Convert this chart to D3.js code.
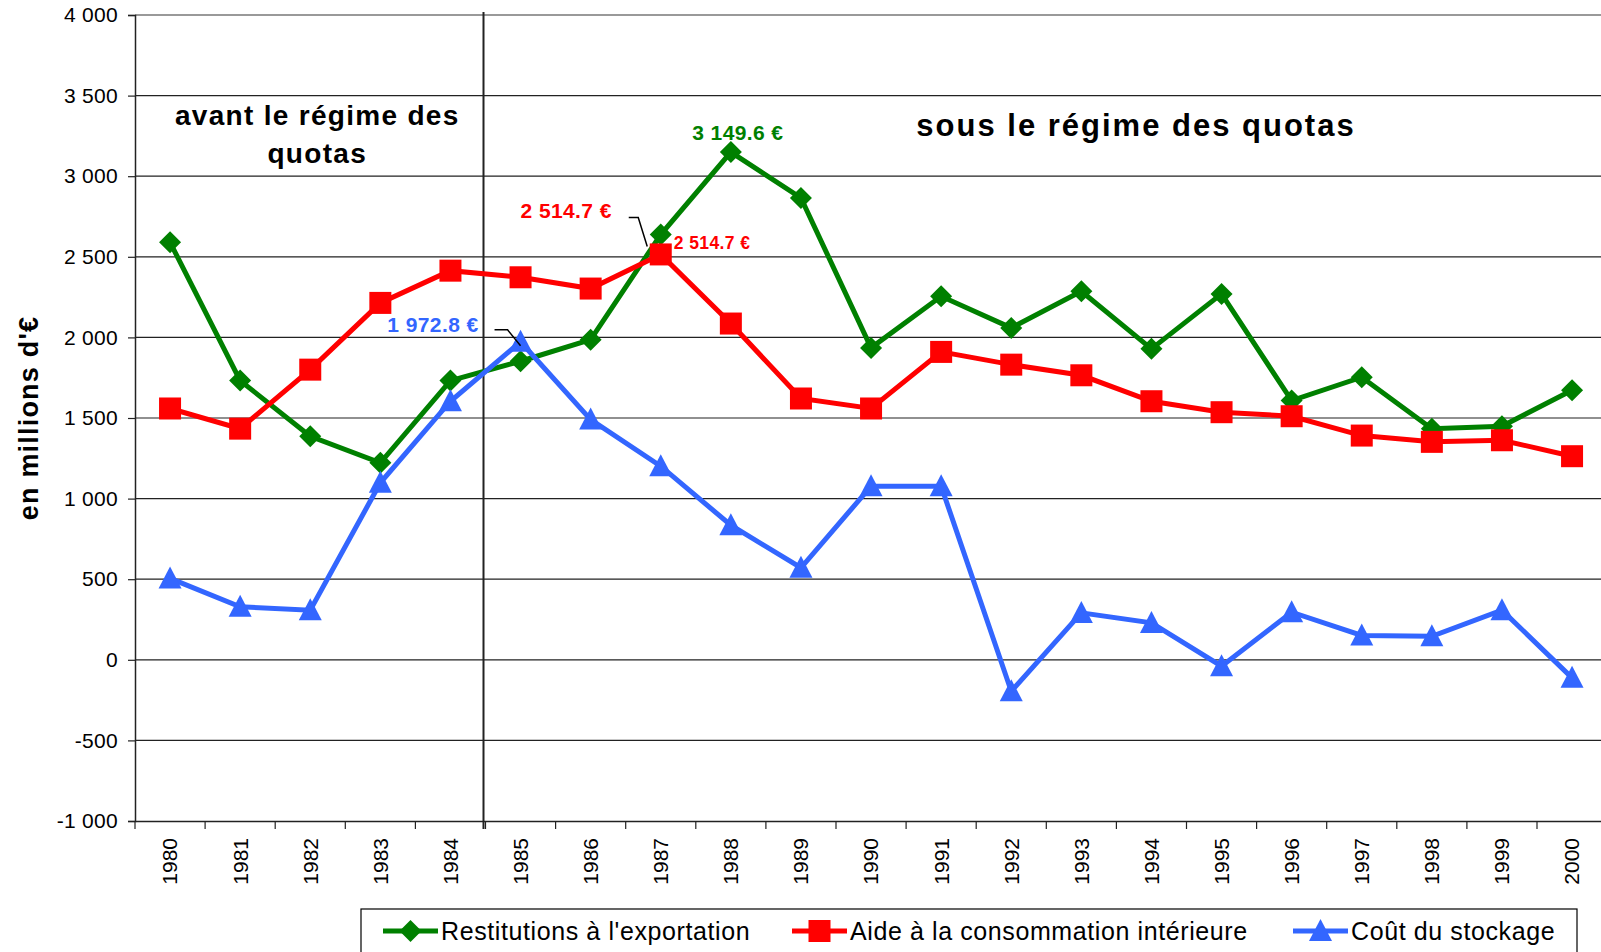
<!DOCTYPE html>
<html><head><meta charset="utf-8">
<script src="https://cdn.jsdelivr.net/npm/d3@7"></script>
<style>
body{margin:0;background:#fff;}
svg{display:block;font-family:"Liberation Sans",Arial,sans-serif;}
</style></head>
<body>
<svg id="c" width="1601" height="952"></svg>
<script>
const years = ["1980","1981","1982","1983","1984","1985","1986","1987","1988","1989","1990","1991","1992","1993","1994","1995","1996","1997","1998","1999","2000"];
const restitutions = [2590,1732,1387,1222,1732,1852,1986,2638,3149.6,2865,1935,2255,2059,2286,1929,2270,1608,1753,1433,1449,1672];
const aide = [1559,1434,1800,2214,2414,2373,2303,2514.7,2086,1621,1559,1910,1831,1765,1604,1536,1511,1391,1352,1362,1263];
const stockage = [505,329,308,1098,1604,1972.8,1490,1201,835,571,1077,1077,-195,291,229,-40,295,151,146,308,-112];
const yTicks = [-1000,-500,0,500,1000,1500,2000,2500,3000,3500,4000];
const seriesNames = ["Restitutions à l'exportation","Aide à la consommation intérieure","Coût du stockage"];

(function(){
const svg = d3.select("#c");
const pLeft = 135, pTop = 15, pBottom = 821, step = 70.1;
const x = d3.scaleBand().domain(years).range([pLeft, pLeft + step*years.length]).padding(0);
const y = d3.scaleLinear().domain([-1000,4000]).range([pBottom, pTop]);
const fmt = v => d3.format(",")(v).replace(/,/g," ").replace(/\u2212/g,"-");

// gridlines
svg.append("g").selectAll("line").data(yTicks.filter(d=>d>-1000)).join("line")
  .attr("x1",pLeft).attr("x2",1601).attr("y1",d=>y(d)).attr("y2",d=>y(d))
  .attr("stroke",d=>d===4000?"#999":"#222").attr("stroke-width",d=>d===4000?2:1.2);

// y axis
const ya = svg.append("g").attr("transform",`translate(${pLeft},0)`)
  .call(d3.axisLeft(y).tickValues(yTicks).tickSize(7).tickPadding(10).tickFormat(fmt));
ya.select(".domain").attr("stroke","#222").attr("stroke-width",1.5);
ya.selectAll(".tick line").attr("stroke","#222").attr("stroke-width",1.2);
ya.selectAll("text").attr("font-size",21).attr("letter-spacing",0.3).attr("fill","#000").attr("font-family","'Liberation Sans',Arial,sans-serif");

// x axis
const xa = svg.append("g").attr("transform",`translate(0,${pBottom})`)
  .call(d3.axisBottom(x).tickSize(0).tickFormat(d=>d));
xa.select(".domain").attr("stroke","#222").attr("stroke-width",1.5);
xa.selectAll(".tick text").attr("font-size",21).attr("fill","#000")
  .attr("font-family","'Liberation Sans',Arial,sans-serif")
  .attr("transform","rotate(-90)").attr("text-anchor","end")
  .attr("x",-17).attr("y",0).attr("dy","0.35em");
// category boundary ticks
svg.append("g").selectAll("line").data(years).join("line")
  .attr("x1",d=>x(d)).attr("x2",d=>x(d)).attr("y1",pBottom).attr("y2",pBottom+8)
  .attr("stroke","#222").attr("stroke-width",1.2);

// divider
const divX = x("1985") - 2;
svg.append("line").attr("x1",divX).attr("x2",divX).attr("y1",12).attr("y2",829)
  .attr("stroke","#222").attr("stroke-width",2);

// region labels
svg.append("text").attr("x",(pLeft+divX)/2+8).attr("y",125).attr("text-anchor","middle")
  .attr("font-size",28).attr("letter-spacing",1.3).attr("font-weight","bold").text("avant le régime des");
svg.append("text").attr("x",(pLeft+divX)/2+8).attr("y",163).attr("text-anchor","middle")
  .attr("font-size",28).attr("letter-spacing",1.3).attr("font-weight","bold").text("quotas");
svg.append("text").attr("x",1136).attr("y",136).attr("text-anchor","middle")
  .attr("font-size",31).attr("letter-spacing",2).attr("font-weight","bold").text("sous le régime des quotas");

// y title
svg.append("text").attr("transform","translate(38,418) rotate(-90)").attr("text-anchor","middle")
  .attr("font-size",27).attr("letter-spacing",1.2).attr("font-weight","bold").text("en millions d'€");

const cx = d => x(d) + x.bandwidth()/2;
const series = [
  {vals: restitutions, color:"#008000", shape:"diamond"},
  {vals: aide, color:"#FF0000", shape:"square"},
  {vals: stockage, color:"#3366FF", shape:"triangle"}
];
const line = d3.line().x((d,i)=>cx(years[i])).y(d=>y(d));

function marker(g, shape, color, px, py){
  if(shape==="diamond"){
    g.append("path").attr("d",`M${px},${py-11}L${px+11},${py}L${px},${py+11}L${px-11},${py}Z`).attr("fill",color);
  } else if(shape==="square"){
    g.append("rect").attr("x",px-11).attr("y",py-11).attr("width",22).attr("height",22).attr("fill",color);
  } else {
    g.append("path").attr("d",`M${px},${py-12}L${px+11.5},${py+10}L${px-11.5},${py+10}Z`).attr("fill",color);
  }
}

series.forEach(s=>{
  const g = svg.append("g");
  g.append("path").datum(s.vals).attr("d",line).attr("fill","none")
    .attr("stroke",s.color).attr("stroke-width",5).attr("stroke-linejoin","miter");
  s.vals.forEach((v,i)=>marker(g,s.shape,s.color,cx(years[i]),y(v)));
});

// annotations
const gx = cx("1988"), gy = y(restitutions[8]);
svg.append("text").attr("x",gx+7).attr("y",gy-12).attr("text-anchor","middle")
  .attr("font-size",21).attr("letter-spacing",0.4).attr("font-weight","bold").attr("fill","#008000").text(fmt(restitutions[8])+" €");

const rx = cx("1987"), ry = y(aide[7]);
svg.append("text").attr("x",rx-49).attr("y",ry-36).attr("text-anchor","end")
  .attr("font-size",21).attr("letter-spacing",0.4).attr("font-weight","bold").attr("fill","#FF0000").text(fmt(aide[7])+" €");
svg.append("path").attr("d",`M${rx-32},${ry-37}L${rx-22.5},${ry-37}L${rx-13.5},${ry-8}`)
  .attr("fill","none").attr("stroke","#000").attr("stroke-width",1.5);
svg.append("text").attr("x",rx+13).attr("y",ry-5).attr("text-anchor","start")
  .attr("font-size",17.5).attr("letter-spacing",0.4).attr("font-weight","bold").attr("fill","#FF0000").text(fmt(aide[7])+" €");

const bx = cx("1985"), by = y(stockage[5]);
svg.append("text").attr("x",bx-42).attr("y",by-10).attr("text-anchor","end")
  .attr("font-size",21).attr("letter-spacing",0.4).attr("font-weight","bold").attr("fill","#3366FF").text(fmt(stockage[5])+" €");
svg.append("path").attr("d",`M${bx-26},${by-12}L${bx-13},${by-12}L${bx},${by+4}`)
  .attr("fill","none").attr("stroke","#000").attr("stroke-width",1.5);

// legend
const lg = svg.append("g");
lg.append("rect").attr("x",361).attr("y",909).attr("width",1216).attr("height",80)
  .attr("fill","#fff").attr("stroke","#000").attr("stroke-width",1.2);
const legX = [383, 792, 1293];
series.forEach((s,i)=>{
  lg.append("line").attr("x1",legX[i]).attr("x2",legX[i]+55).attr("y1",931).attr("y2",931)
    .attr("stroke",s.color).attr("stroke-width",5);
  marker(lg, s.shape, s.color, legX[i]+27.5, 931);
  lg.append("text").attr("x",legX[i]+58).attr("y",940).attr("font-size",25).attr("letter-spacing",0.6).attr("fill","#000").text(seriesNames[i]);
});
})();
</script>
</body></html>
